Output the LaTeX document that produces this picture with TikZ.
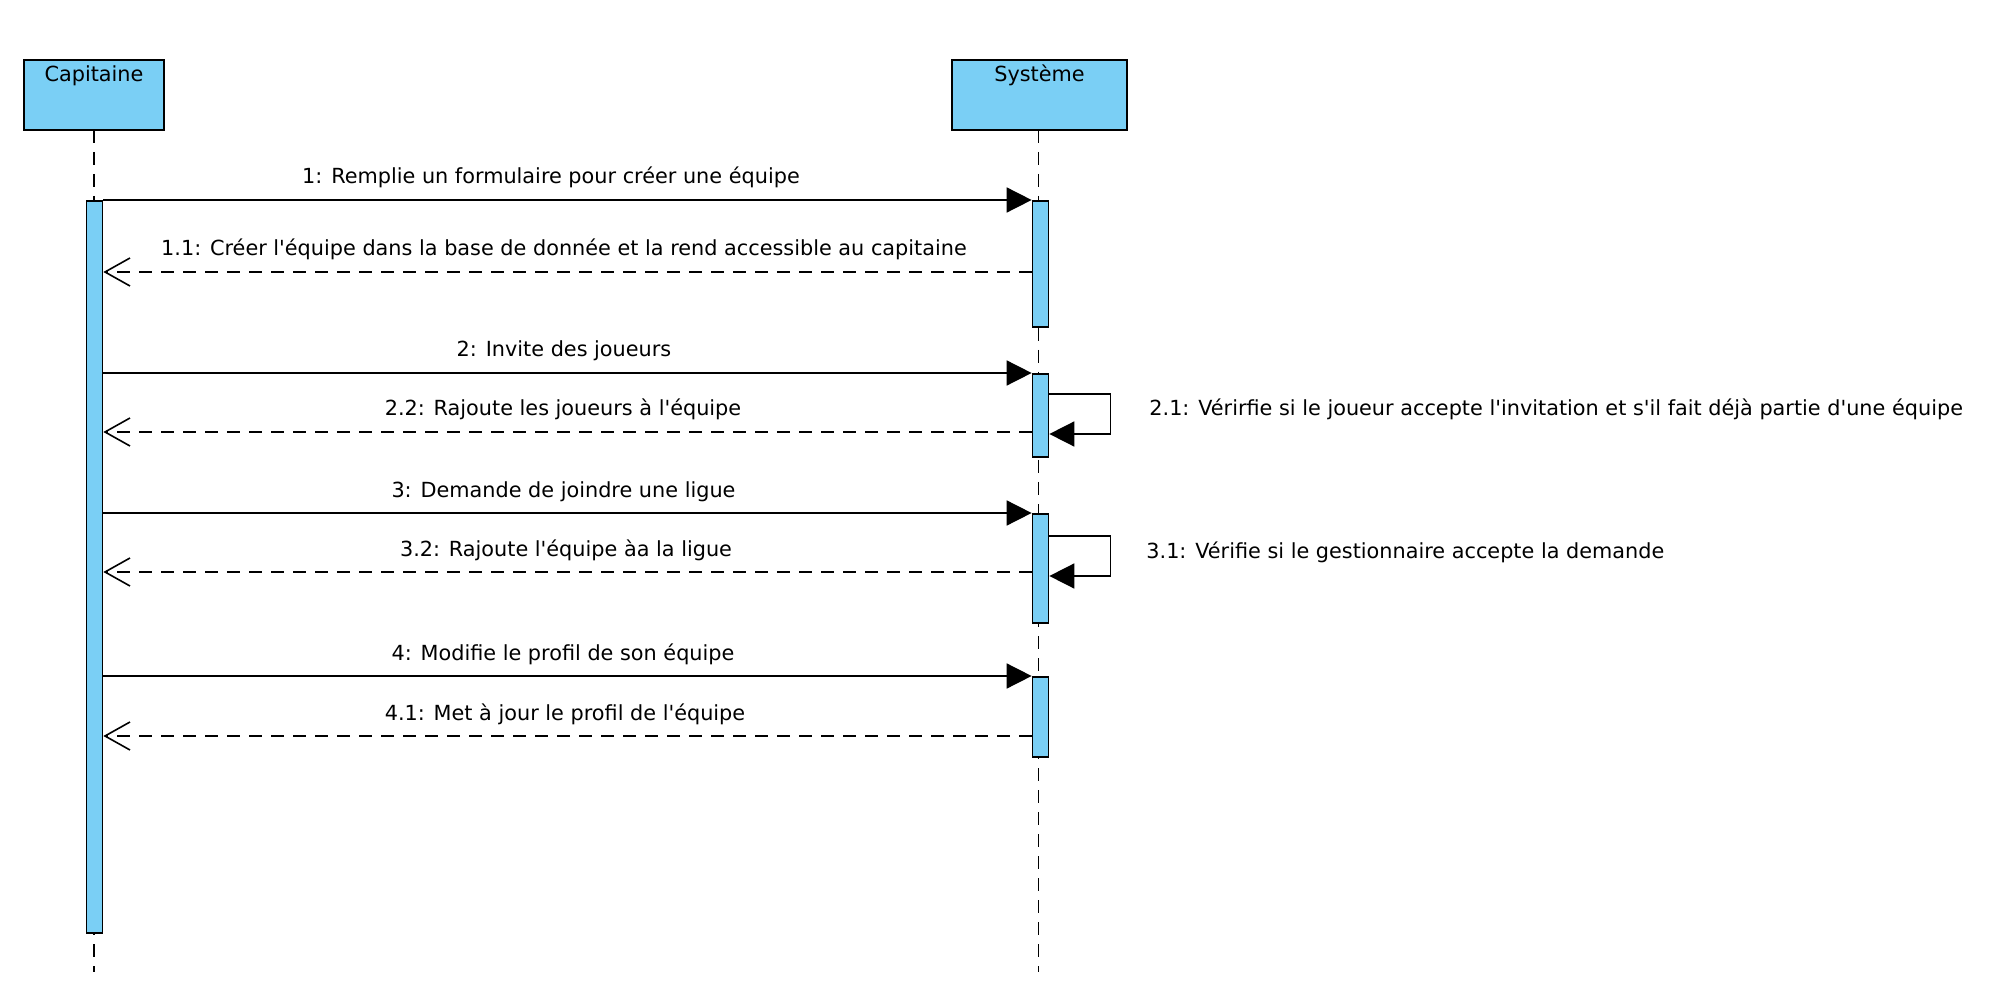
\documentclass[tikz,border=0pt]{standalone}
\usepackage{fontspec}
\setmainfont{DejaVu Sans}[Ligatures=TeXOff]
\usetikzlibrary{arrows.meta}
\definecolor{lblue}{RGB}{122,207,245}
\begin{document}
\begin{tikzpicture}[x=0.5pt,y=-0.5pt,
  font=\fontsize{10.4}{12}\selectfont,
  actor/.style={draw,line width=1pt,fill=lblue,inner sep=0pt},
  actbar/.style={draw,line width=0.85pt,fill=lblue,inner sep=0pt,minimum width=8pt},
  lifeline/.style={line width=0.85pt,dash pattern=on 6.5pt off 4.5pt},
  msg/.style={line width=0.8pt,-{Triangle[length=12.5pt,width=12.5pt]}},
  ret/.style={line width=0.8pt,dash pattern=on 6.5pt off 4.5pt,
    -{Straight Barb[length=12.5pt,width=14pt,line width=0.8pt]}},
  lbl/.style={anchor=base,inner sep=0pt},
  lbll/.style={anchor=base west,inner sep=0pt}]
\fill[white] (0,0) rectangle (1992,994);
\useasboundingbox (0,0) rectangle (1992,994);
% actors
\draw[actor] (24,60) rectangle (164,130);
\node[lbl] (capt) at (94,82) {Capitaine};
\draw[actor] (952,60) rectangle (1127,130);
\node[lbl] (sys) at (1039.5,82) {Système};
\coordinate (capB) at (94,130);
\coordinate (capE) at (94,972);
\coordinate (sysB) at (1038.5,130);
\coordinate (sysE) at (1038.5,972);
% lifelines
\draw[lifeline] (capB) -- (capE);
\draw[lifeline] (sysB) -- (sysE);
% activation bars
\node[actbar,minimum height=366pt,anchor=north] (barC) at (94.5,200) {};
\node[actbar,minimum height=63pt,anchor=north] (bar1) at (1040.5,200) {};
\node[actbar,minimum height=41.5pt,anchor=north] (bar2) at (1040.5,373) {};
\node[actbar,minimum height=54.5pt,anchor=north] (bar3) at (1040.5,513) {};
\node[actbar,minimum height=40pt,anchor=north] (bar4) at (1040.5,676) {};
% message end points
\coordinate (m1a) at (barC.east |- 0,200);  \coordinate (m1b) at (bar1.west |- 0,200);
\coordinate (r1a) at (bar1.west |- 0,272);  \coordinate (r1b) at (barC.east |- 0,272);
\coordinate (m2a) at (barC.east |- 0,373);  \coordinate (m2b) at (bar2.west |- 0,373);
\coordinate (s2a) at (bar2.east |- 0,394);  \coordinate (s2b) at (bar2.east |- 0,434);
\coordinate (r2a) at (bar2.west |- 0,432);  \coordinate (r2b) at (barC.east |- 0,432);
\coordinate (m3a) at (barC.east |- 0,513);  \coordinate (m3b) at (bar3.west |- 0,513);
\coordinate (s3a) at (bar3.east |- 0,536);  \coordinate (s3b) at (bar3.east |- 0,576);
\coordinate (r3a) at (bar3.west |- 0,572);  \coordinate (r3b) at (barC.east |- 0,572);
\coordinate (m4a) at (barC.east |- 0,676);  \coordinate (m4b) at (bar4.west |- 0,676);
\coordinate (r4a) at (bar4.west |- 0,736);  \coordinate (r4b) at (barC.east |- 0,736);
% messages
\draw[msg] (m1a) -- (m1b);
\node[lbl] (l1) at (551,184) {1: Remplie un formulaire pour créer une équipe};
\draw[ret] (r1a) -- (r1b);
\node[lbl] (l11) at (564,256) {1.1: Créer l'équipe dans la base de donnée et la rend accessible au capitaine};
\draw[msg] (m2a) -- (m2b);
\node[lbl] (l2) at (564,357) {2: Invite des joueurs};
\draw[msg] (s2a) -- ++(61,0) |- (s2b);
\node[lbll] (l21) at (1149,416) {2.1: Vérirfie si le joueur accepte l'invitation et s'il fait déjà partie d'une équipe};
\draw[ret] (r2a) -- (r2b);
\node[lbl] (l22) at (563,416) {2.2: Rajoute les joueurs à l'équipe};
\draw[msg] (m3a) -- (m3b);
\node[lbl] (l3) at (563.5,497) {3: Demande de joindre une ligue};
\draw[msg] (s3a) -- ++(61,0) |- (s3b);
\node[lbll] (l31) at (1146,558) {3.1: Vérifie si le gestionnaire accepte la demande};
\draw[ret] (r3a) -- (r3b);
\node[lbl] (l32) at (566,556) {3.2: Rajoute l'équipe àa la ligue};
\draw[msg] (m4a) -- (m4b);
\node[lbl] (l4) at (563,660) {4: Modifie le profil de son équipe};
\draw[ret] (r4a) -- (r4b);
\node[lbl] (l41) at (565,720) {4.1: Met à jour le profil de l'équipe};
\end{tikzpicture}
\end{document}
